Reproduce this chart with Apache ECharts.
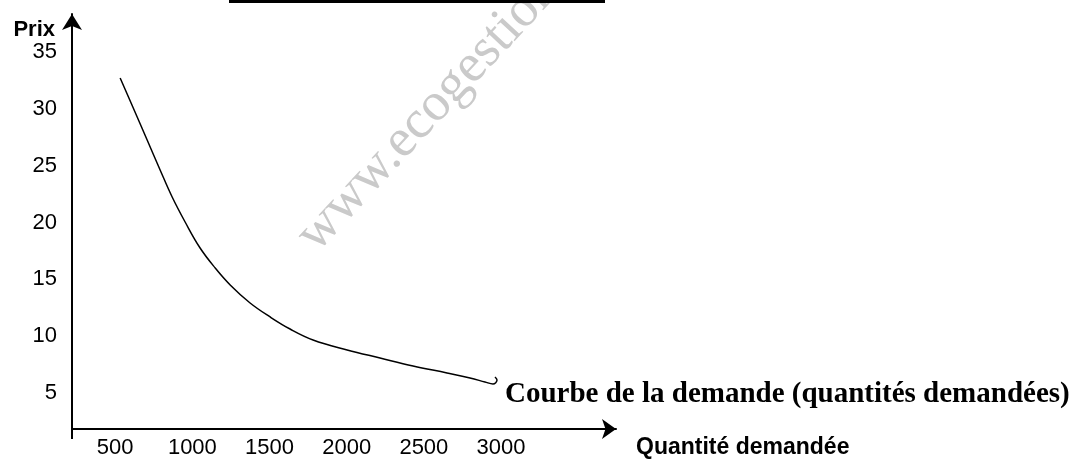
<!DOCTYPE html>
<html>
<head>
<meta charset="utf-8">
<title>Courbe de la demande</title>
<script src="https://cdn.jsdelivr.net/npm/echarts@6/dist/echarts.min.js"></script>
<style>
    html, body { margin: 0; padding: 0; background: #fff; }
    #myChart { width: 1090px; height: 459px; }
</style>
</head>
<body>
<div id="myChart"></div>
<script>
// valeurs
const quantites = [532, 617, 707, 791, 869, 953, 1050, 1148, 1245, 1374, 1504, 1633, 1782, 2003, 2216, 2430, 2650, 2799, 2896, 2948, 2974, 2961];
const prix = [32.73, 30.09, 27.27, 24.63, 22.25, 20.05, 17.76, 16.0, 14.51, 12.92, 11.69, 10.63, 9.67, 8.79, 8.08, 7.38, 6.76, 6.32, 5.97, 5.79, 6.14, 6.41];
const prixTicks = [5, 10, 15, 20, 25, 30, 35];
const quantiteTicks = [500, 1000, 1500, 2000, 2500, 3000];

const myChart = echarts.init(document.getElementById('myChart'));

const sans = '"Liberation Sans", Arial, sans-serif';
const serif = '"Liberation Serif", "Times New Roman", serif';

const option = {
    animation: false,
    backgroundColor: '#fff',
    title: {
        text: 'Courbe de la demande (quantités demandées)',
        left: 505,
        top: 380,
        padding: 0,
        textStyle: { fontFamily: serif, fontWeight: 'bold', fontSize: 29, color: '#000' }
    },
    grid: {
        left: 72,
        right: 474,
        top: 14,
        bottom: 30,
        outerBoundsMode: 'none'
    },
    xAxis: {
        type: 'value',
        min: 220,
        max: 3745,
        name: 'Quantité demandée',
        nameLocation: 'end',
        nameGap: 20,
        nameMoveOverlap: false,
        nameTextStyle: {
            fontFamily: sans, fontWeight: 'bold', fontSize: 23, color: '#000',
            align: 'left', verticalAlign: 'top', padding: [7, 0, 0, 0]
        },
        axisLine: {
            show: true,
            symbol: ['none', 'arrow'],
            symbolSize: [15, 14],
            lineStyle: { color: '#000', width: 2 }
        },
        axisTick: {
            show: true,
            customValues: [220],
            length: 10,
            lineStyle: { color: '#000', width: 2 }
        },
        axisLabel: {
            customValues: quantiteTicks,
            formatter: v => String(v),
            margin: 8,
            fontFamily: sans,
            fontSize: 22,
            color: '#000'
        },
        splitLine: { show: false }
    },
    yAxis: {
        type: 'value',
        min: 1.83,
        max: 38.36,
        name: 'Prix',
        nameLocation: 'end',
        nameGap: -16,
        nameMoveOverlap: false,
        nameTextStyle: {
            fontFamily: sans, fontWeight: 'bold', fontSize: 22, color: '#000',
            align: 'right', verticalAlign: 'middle', padding: [0, 17, 0, 0]
        },
        axisLine: {
            show: true,
            symbol: ['none', 'arrow'],
            symbolSize: [15, 16],
            lineStyle: { color: '#000', width: 2 }
        },
        axisTick: { show: false },
        axisLabel: {
            customValues: prixTicks,
            margin: 15,
            fontFamily: sans,
            fontSize: 22,
            color: '#000'
        },
        splitLine: { show: false }
    },
    graphic: [
        {
            type: 'rect',
            shape: { x: 229, y: 0, width: 376, height: 3 },
            style: { fill: '#000' }
        },
        {
            // filigrane
            type: 'text',
            x: 326,
            y: 262,
            rotation: 47 * Math.PI / 180,
            z: -1,
            style: {
                text: 'www.ecogestion.com',
                font: '54px "Liberation Serif", serif',
                fill: '#cacaca',
                textAlign: 'left',
                textVerticalAlign: 'bottom'
            }
        }
    ],
    series: [
        {
            name: 'Demande',
            type: 'line',
            data: quantites.map((q, i) => [q, prix[i]]),
            smooth: 0.4,
            showSymbol: false,
            lineStyle: { color: '#000', width: 1.5 }
        }
    ]
};

myChart.setOption(option);
window.addEventListener('resize', myChart.resize);
</script>
</body>
</html>
